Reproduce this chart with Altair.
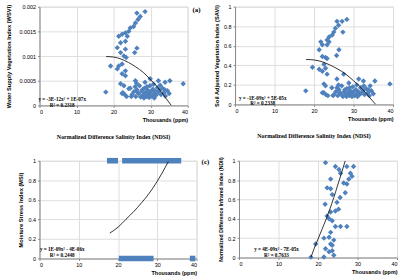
import altair as alt
import pandas as pd

# ---------------- data ----------------
# Panel (a): NDSI (thousands ppm) vs WSVI
a_x = [28.5, 26.3, 27.2, 26.6, 25.9, 25.4, 24.5, 24.1, 23.2, 22.3, 23.7, 21.4, 21.9, 23.2,
       21.0, 23.2, 26.3, 25.7, 21.9, 22.8, 23.4, 19.2, 21.4, 22.3, 21.0, 23.2, 22.3, 23.2,
       25.9, 21.9, 22.8, 24.1, 17.9, 22.3, 38.8, 35.2, 33.9, 32.1, 29.9, 28.5,
       24.5, 25.0, 25.5, 26.0, 26.3, 26.8, 27.0, 27.3, 27.6, 28.0, 28.3, 28.6, 28.9, 29.2,
       29.5, 29.8, 30.0, 30.3, 30.6, 30.9, 31.2, 31.5, 31.8, 32.1, 32.4, 32.8, 33.2, 33.6,
       34.0, 34.5, 35.0, 26.5, 27.8, 29.0, 30.8, 31.0, 28.2, 25.8, 32.6, 29.6, 33.8, 26.2,
       24.8, 23.5, 22.5, 23.0]
a_y = [0.00190, 0.00187, 0.00180, 0.00174, 0.00167, 0.00160, 0.00157, 0.00150, 0.00147,
       0.00144, 0.00140, 0.00140, 0.00127, 0.00130, 0.00117, 0.00114, 0.00116, 0.00107,
       0.00107, 0.00100, 0.00097, 0.00080, 0.00080, 0.00084, 0.00074, 0.00070, 0.00064,
       0.00060, 0.00050, 0.00044, 0.00040, 0.00034, 0.00027, 0.00024, 0.00044, 0.00050,
       0.00047, 0.00050, 0.00054, 0.00047,
       0.00035, 0.00022, 0.00028, 0.00018, 0.00032, 0.00024, 0.00040, 0.00017, 0.00029,
       0.00021, 0.00035, 0.00026, 0.00018, 0.00031, 0.00023, 0.00040, 0.00028, 0.00019,
       0.00033, 0.00024, 0.00029, 0.00021, 0.00036, 0.00027, 0.00031, 0.00022, 0.00035,
       0.00026, 0.00019, 0.00030, 0.00024, 0.00026, 0.00032, 0.00038, 0.00043, 0.00015,
       0.00015, 0.00038, 0.00041, 0.00016, 0.00032, 0.00045, 0.00018, 0.00018, 0.00026,
       0.00022]
a_cx = [18, 20, 22, 24, 26, 28, 30, 32, 34, 35.6]
a_cy = [0.00099, 0.00098, 0.00094, 0.00087, 0.00078, 0.00067, 0.00052, 0.00036, 0.00016, 0.0]

# Panel (b): NDSI vs SAVI
b_x = [28.3, 27.1, 25.8, 26.2, 25.4, 25.0, 27.3, 24.6, 23.8, 23.3, 21.7, 22.1, 23.3, 23.8,
       21.3, 26.3, 25.7, 22.1, 22.9, 23.3, 19.6, 21.3, 22.5, 22.9, 22.1, 23.3, 27.5, 25.8,
       22.5, 22.9, 17.9, 22.1, 39.2, 35.4, 32.5, 31.3, 28.8, 34.2,
       24.5, 25.0, 25.5, 26.0, 26.3, 26.8, 27.0, 27.3, 27.6, 28.0, 28.3, 28.6, 28.9, 29.2,
       29.5, 29.8, 30.0, 30.3, 30.6, 30.9, 31.2, 31.5, 31.8, 32.1, 32.4, 32.8, 33.2, 33.6,
       34.0, 34.5, 35.0, 26.5, 27.8, 29.0, 30.8, 31.0, 28.2, 25.8, 32.6, 29.6, 33.8, 26.2,
       24.8, 23.5, 22.5, 23.0]
b_y = [0.87, 0.85, 0.85, 0.81, 0.78, 0.74, 0.74, 0.71, 0.69, 0.66, 0.64, 0.61, 0.61, 0.64,
       0.56, 0.56, 0.50, 0.49, 0.48, 0.47, 0.38, 0.36, 0.41, 0.37, 0.34, 0.31, 0.31, 0.26,
       0.21, 0.19, 0.139, 0.12, 0.21, 0.24, 0.24, 0.26, 0.22, 0.19,
       0.17, 0.10, 0.13, 0.09, 0.15, 0.11, 0.19, 0.08, 0.13, 0.10, 0.16, 0.12, 0.09, 0.14,
       0.11, 0.18, 0.13, 0.09, 0.15, 0.11, 0.13, 0.10, 0.17, 0.12, 0.14, 0.10, 0.16, 0.12,
       0.09, 0.14, 0.11, 0.12, 0.15, 0.17, 0.20, 0.08, 0.08, 0.17, 0.19, 0.08, 0.15, 0.20,
       0.09, 0.09, 0.12, 0.10]
b_cx = [18, 20, 22, 24, 26, 28, 30, 32, 34, 35.6]
b_cy = [0.46, 0.455, 0.437, 0.404, 0.362, 0.311, 0.242, 0.167, 0.074, 0.0]

# Panel (c): NDSI vs MSI (points are so dense they form bands)
c_start = [17.2, 21.05, 20.2, 38.3]
c_end = [20.0, 36.1, 29.05, 39.7]
c_msi = [1, 1, 0, 0]
c_cx = [17.9, 20, 22, 24, 26, 28, 30, 32, 32.8]
c_cy = [0.26, 0.32, 0.40, 0.48, 0.57, 0.67, 0.79, 0.93, 0.99]

# Panel (d): NDSI vs NDII
d_x = [21.9, 24.4, 25.3, 25.7, 27.3, 29.0, 28.2, 28.6, 27.8, 23.2, 26.5, 27.3, 26.9, 23.6,
       25.6, 24.8, 21.8, 25.2, 24.4, 23.2, 22.3, 22.8, 23.6, 25.7, 27.3, 24.4, 23.2, 22.8,
       24.0, 23.2, 19.4, 21.9, 23.6, 24.0, 21.5, 18.2, 22.8, 23.6, 21.5, 22.3, 23.2]
d_y = [0.98, 0.94, 0.91, 0.87, 0.94, 0.94, 0.87, 0.84, 0.81, 0.81, 0.77, 0.76, 0.67, 0.65,
       0.62, 0.57, 0.55, 0.50, 0.48, 0.47, 0.43, 0.40, 0.38, 0.32, 0.32, 0.32, 0.26, 0.21,
       0.18, 0.14, 0.14, 0.09, 0.07, 0.024, 0.006, 0.004, 0.06, 0.126, 0.20, 0.72, 0.71]
d_cx = [18.2, 19, 20, 21, 22, 23, 24, 25, 26, 26.9]
d_cy = [0.0, 0.09, 0.19, 0.29, 0.39, 0.50, 0.62, 0.75, 0.88, 1.0]

x_ticks = [0, 10, 20, 30, 40]
wsvi_ticks = [0, 0.0005, 0.001, 0.0015, 0.002]
unit_ticks = [0, 0.2, 0.4, 0.6, 0.8, 1]
eq_a = "y = -3E-12x² + 1E-07x\nR² = 0.2318"
eq_b = "y = -1E-09x² + 5E-05x\nR² = 0.2338"
eq_c = "y = 1E-09x² - 4E-06x\nR² = 0.2448"
eq_d = "y = 4E-09x² - 7E-05x\nR² = 0.7633"

# ---------------- styling ----------------
FONT = "Liberation Serif"
BLUE = "#4F81BD"
AX = "#8c8c8c"


def x_enc():
    return alt.X("x:Q", scale=alt.Scale(domain=[0, 40], nice=False),
                 axis=alt.Axis(values=x_ticks, title="Thousands (ppm)", titleAnchor="end",
                               titleFontSize=5.5, titlePadding=3, labelFontSize=5.5,
                               labelPadding=2, tickSize=2, format="d", labelOverlap=False))


def y_enc(title, dom, vals, fmt, tsize=5.8, tpad=4):
    return alt.Y("y:Q", scale=alt.Scale(domain=dom, nice=False),
                 axis=alt.Axis(values=vals, title=title, titleFontSize=tsize,
                               titlePadding=tpad, labelFontSize=5.5, labelPadding=2,
                               tickSize=2, format=fmt, labelOverlap=False))


def text_layer(txt, px, py, size=5.2):
    return alt.Chart(pd.DataFrame({"t": [txt]})).mark_text(
        font=FONT, fontWeight="bold", fontSize=size, lineBreak="\n", lineHeight=6,
        align="center", baseline="middle", color="black"
    ).encode(x=alt.value(px), y=alt.value(py), text="t:N")


def label_layer(txt, px, py):
    return alt.Chart(pd.DataFrame({"t": [txt]})).mark_text(
        font=FONT, fontWeight="bold", fontSize=7, align="center", baseline="middle",
        color="black"
    ).encode(x=alt.value(px), y=alt.value(py), text="t:N")


def panel(pts_chart, cx, cy, yenc, eq, ex, ey, w, h, extra=None, title=None):
    crv = alt.Chart(pd.DataFrame({"x": cx, "y": cy})).mark_line(
        color="black", strokeWidth=0.8, interpolate="monotone", clip=True
    ).encode(x=x_enc(), y=yenc)
    layers = [pts_chart, crv, text_layer(eq, ex, ey)]
    if extra is not None:
        layers.append(extra)
    ch = alt.layer(*layers)
    if title is not None:
        return ch.properties(width=w, height=h, title=title)
    return ch.properties(width=w, height=h)


def scatter(xv, yv, yenc):
    return alt.Chart(pd.DataFrame({"x": xv, "y": yv})).mark_point(
        shape="diamond", filled=True, size=30, color=BLUE, opacity=1
    ).encode(x=x_enc(), y=yenc)


ndsi_title = alt.TitleParams(
    text="Normalized Difference Salinity Index (NDSI)", orient="bottom", anchor="middle",
    font=FONT, fontSize=6, fontWeight="bold", offset=11, color="black")

ya = y_enc("Water Supply Vegetation Index (WSVI)", [0, 0.002], wsvi_ticks, ".4~f", tpad=8)
yb = y_enc("Soil Adjusted Vegetation Index (SAVI)", [0, 1], unit_ticks, ".1~f", tpad=4)
yc = y_enc("Moisture Stress Index (MSI)", [0, 1], unit_ticks, ".1~f", tpad=5)
yd = y_enc("Normalized Difference Infrared Index (NDII)", [0, 1], unit_ticks, ".1~f",
           tsize=5.2, tpad=4)

pa = panel(scatter(a_x, a_y, ya), a_cx, a_cy, ya, eq_a, 23, 93.5, 150, 100,
           extra=label_layer("(a)", 159, 3), title=ndsi_title)
pb = panel(scatter(b_x, b_y, yb), b_cx, b_cy, yb, eq_b, 28, 92, 160, 99, title=ndsi_title)

bands = alt.Chart(pd.DataFrame({"x": c_start, "x2": c_end, "y": c_msi})).mark_rule(
    color=BLUE, strokeWidth=5.7, strokeCap="butt"
).encode(x=x_enc(), x2="x2:Q", y=yc)

pc = panel(bands, c_cx, c_cy, yc, eq_c, 23, 89, 159, 99,
           extra=label_layer("(c)", 168, 1))
pd_ = panel(scatter(d_x, d_y, yd), d_cx, d_cy, yd, eq_d, 38, 89, 160, 98)

top = alt.hconcat(pa, pb, spacing=11)
bottom = alt.hconcat(pc, pd_, spacing=7)

chart = alt.vconcat(top, bottom, spacing=15).properties(
    padding={"left": 4, "top": 2, "right": 0, "bottom": 0}
).configure_view(stroke=None).configure_axis(
    grid=False, domainColor=AX, tickColor=AX, domainWidth=0.8, tickWidth=0.8,
    labelFont=FONT, titleFont=FONT, labelFontWeight="bold", titleFontWeight="bold",
    labelColor="black", titleColor="black", labelOverlap=False
).configure(background="white")

chart.save("out.html", embed_options={"renderer": "svg", "actions": False})
